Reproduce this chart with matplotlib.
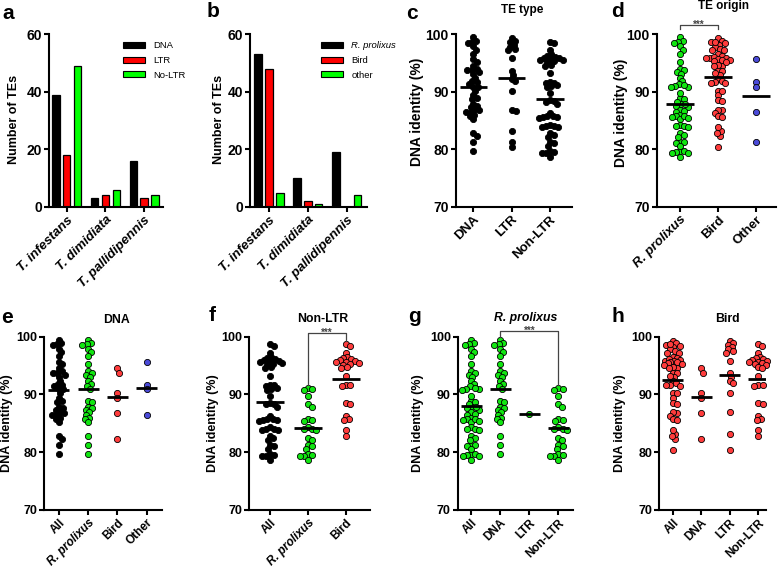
import numpy as np
import matplotlib
matplotlib.use('Agg')
import matplotlib.pyplot as plt
from matplotlib.patches import Patch

plt.rcParams['font.family'] = ['Liberation Sans', 'DejaVu Sans']
plt.rcParams['font.weight'] = 'bold'

# ---------------- data ----------------
species = ['T. infestans', 'T. dimidiata', 'T. pallidipennis']
type_names = ['DNA', 'LTR', 'No-LTR']
count_dna = [39, 3, 16]
count_ltr = [18, 4, 3]
count_nonltr = [49, 6, 4]
origin_names = ['R. prolixus', 'Bird', 'other']
count_rp = [53, 10, 19]
count_bird = [48, 2, 0]
count_other = [5, 1, 4]

# DNA identity (%) of T. infestans TEs, by type x origin
dna_rp = [99.5, 98.9, 98.7, 98.5, 97.9, 97.3, 96.6, 95.2, 94.0, 93.8, 93.4, 93.1, 92.4, 91.8, 91.4,
          90.9, 88.9, 88.7, 87.9, 87.6, 87.3, 86.9, 86.5, 86.0, 85.7, 85.2, 82.8, 81.3, 79.7]
dna_bird = [94.5, 93.8, 90.2, 89.4, 86.8, 82.3]
dna_other = [95.7, 91.7, 90.9, 86.4]
ltr_rp = [86.6]
ltr_bird = [99.3, 98.9, 98.6, 98.2, 97.8, 97.5, 97.2, 95.8, 93.7, 93.0, 92.3, 91.9, 90.2, 86.9, 83.2, 80.4]
ltr_other = [81.3]
nonltr_rp = [91.1, 91.0, 90.8, 89.8, 88.3, 87.9, 85.8, 85.6, 85.4, 84.3, 84.1, 84.0, 83.8, 82.4, 82.1,
             81.2, 81.0, 80.5, 79.7, 79.5, 79.4, 79.3, 78.6]
nonltr_bird = [98.7, 98.4, 97.2, 96.5, 96.3, 96.1, 95.9, 95.8, 95.7, 95.6, 95.5, 95.3, 95.1, 94.7, 94.5,
               93.2, 91.7, 91.6, 91.5, 88.5, 88.4, 86.3, 85.7, 85.6, 83.8, 82.8]

all_dna = dna_rp + dna_bird + dna_other
all_ltr = ltr_rp + ltr_bird + ltr_other
all_nonltr = nonltr_rp + nonltr_bird
all_rp = dna_rp + ltr_rp + nonltr_rp
all_bird = dna_bird + ltr_bird + nonltr_bird
all_other = dna_other + ltr_other

# ---------------- style ----------------
BAR_GREEN = '#00ff00'
BAR_RED = '#ff0000'
DOT_BLACK = '#000000'
DOT_GREEN = '#11e611'
DOT_RED = '#ff3c3c'
DOT_BLUE = '#4a4ad8'

W, H = 778, 568
fig = plt.figure(figsize=(W / 100, H / 100), dpi=100)


def make_ax(x0, x1, y0, y1, xlim, ylim):
    ax = fig.add_axes([x0 / W, 1 - y1 / H, (x1 - x0) / W, (y1 - y0) / H])
    ax.set_xlim(*xlim)
    ax.set_ylim(*ylim)
    for s in ('top', 'right'):
        ax.spines[s].set_visible(False)
    for s in ('left', 'bottom'):
        ax.spines[s].set_linewidth(1.5)
    ax.tick_params(axis='both', direction='out', length=3.5, width=1.5, pad=1.5)
    return ax


def ftext(x, y, s, **kw):
    fig.text(x / W, 1 - y / H, s, **kw)


def swarm(ax, xc, vals, d=4.3, max_frac=0.33):
    tr = ax.transData
    pts = tr.transform(np.column_stack([np.full(len(vals), float(xc)), vals]))
    ys = pts[:, 1]
    ppu = (tr.transform((1, 0)) - tr.transform((0, 0)))[0]
    maxw = max_frac * ppu
    order = np.argsort(-ys, kind='stable')
    placed = []
    xs = np.zeros(len(vals))
    for idx in order:
        y = ys[idx]
        near = [(px, py) for px, py in placed if abs(py - y) < d]
        cands = [0.0]
        for px, py in near:
            dx = np.sqrt(d * d - (py - y) ** 2)
            cands += [px + dx, px - dx]
        cands = [c for c in cands if abs(c) <= maxw]
        cands.sort(key=lambda c: (round(abs(c), 6), -c))
        chosen = None
        for c in cands:
            if all((c - px) ** 2 + (y - py) ** 2 >= d * d - 1e-6 for px, py in near):
                chosen = c
                break
        if chosen is None:
            grid = np.linspace(-maxw, maxw, 41)
            score = [min(np.hypot(g - px, y - py) for px, py in near) for g in grid]
            chosen = float(grid[int(np.argmax(score))])
        xs[idx] = chosen
        placed.append((chosen, y))
    return xs / ppu


def bar_panel(ax, series, colors, labels, italic_first=False, leg_x=0.65):
    n = len(series)
    x = np.arange(len(species))
    width = 0.19
    step = 0.28
    for k, (vals, col) in enumerate(zip(series, colors)):
        ax.bar(x + (k - (n - 1) / 2) * step, vals, width=width, color=col,
               edgecolor='black', linewidth=0.9, zorder=2)
    ax.set_yticks([0, 20, 40, 60])
    ax.set_yticklabels(['0', '20', '40', '60'], fontsize=10, fontweight='bold')
    ax.set_xticks(x)
    ax.set_xticklabels(species, rotation=45, ha='right', va='top', rotation_mode='anchor',
                       fontsize=9.5, fontweight='bold', fontstyle='italic')
    handles = [Patch(facecolor=c, edgecolor='black', linewidth=0.8) for c in colors]
    leg = ax.legend(handles, labels, loc='upper left', bbox_to_anchor=(leg_x, 0.96),
                    frameon=False, prop={'weight': 'normal', 'size': 6.8},
                    handlelength=2.3, handleheight=0.6, labelspacing=0.6,
                    handletextpad=0.9, borderaxespad=0, borderpad=0)
    if italic_first:
        leg.get_texts()[0].set_style('italic')


def dot_panel(ax, groups, colors, labels, fs_tick, fs_x, italic_labels=()):
    for i, (vals, col) in enumerate(zip(groups, colors)):
        offs = swarm(ax, i, vals)
        ax.scatter(i + offs, vals, s=20, c=col, edgecolors='black', linewidths=0.6,
                   zorder=2, clip_on=False)
        ax.hlines(np.mean(vals), i - 0.36, i + 0.36, colors='black', lw=2.0, zorder=3)
    ax.set_yticks([70, 80, 90, 100])
    ax.set_yticklabels(['70', '80', '90', '100'], fontsize=fs_tick, fontweight='bold')
    ax.set_xticks(range(len(labels)))
    ax.set_xticklabels(labels, rotation=45, ha='right', va='top', rotation_mode='anchor',
                       fontsize=fs_x, fontweight='bold')
    for t in ax.get_xticklabels():
        if t.get_text() in italic_labels:
            t.set_fontstyle('italic')


def bracket(ax, x0, x1, ytop, yl, yr, fs=7):
    ax.plot([x0, x0, x1, x1], [yl, ytop, ytop, yr], color='#444444', lw=0.9,
            clip_on=False, zorder=4)
    ax.text((x0 + x1) / 2, ytop - 0.55, '***', ha='center', va='baseline', fontsize=fs,
            color='#444444', fontweight='bold', clip_on=False)


# ---------------- panel a ----------------
ax_a = make_ax(49, 163, 34.3, 207, (-0.46, 2.49), (0, 60))
bar_panel(ax_a, [count_dna, count_ltr, count_nonltr], ['black', BAR_RED, BAR_GREEN],
          type_names, leg_x=0.65)

# ---------------- panel b ----------------
ax_b = make_ax(250, 367, 34.3, 207, (-0.49, 2.52), (0, 60))
bar_panel(ax_b, [count_rp, count_bird, count_other], ['black', BAR_RED, BAR_GREEN],
          origin_names, italic_first=True, leg_x=0.607)

# ---------------- panel c ----------------
ax_c = make_ax(455.7, 571.7, 34.3, 206.7, (-0.46, 2.57), (70, 100))
dot_panel(ax_c, [all_dna, all_ltr, all_nonltr], [DOT_BLACK] * 3,
          ['DNA', 'LTR', 'Non-LTR'], 10, 9.5)

# ---------------- panel d ----------------
ax_d = make_ax(656.7, 776, 34.3, 206.7, (-0.61, 2.52), (70, 100))
dot_panel(ax_d, [all_rp, all_bird, all_other], [DOT_GREEN, DOT_RED, DOT_BLUE],
          ['R. prolixus', 'Bird', 'Other'], 10, 9.5, italic_labels=('R. prolixus',))
bracket(ax_d, 0, 1, 101.6, 100.9, 100.9)

# ---------------- panel e ----------------
ax_e = make_ax(44.3, 161.7, 336.7, 510, (-0.5, 3.51), (70, 100))
dot_panel(ax_e, [all_dna, dna_rp, dna_bird, dna_other],
          [DOT_BLACK, DOT_GREEN, DOT_RED, DOT_BLUE],
          ['All', 'R. prolixus', 'Bird', 'Other'], 9, 8.5, italic_labels=('R. prolixus',))

# ---------------- panel f ----------------
ax_f = make_ax(249.3, 370, 336.7, 510, (-0.54, 2.63), (70, 100))
dot_panel(ax_f, [all_nonltr, nonltr_rp, nonltr_bird], [DOT_BLACK, DOT_GREEN, DOT_RED],
          ['All', 'R. prolixus', 'Bird'], 9, 8.5, italic_labels=('R. prolixus',))
bracket(ax_f, 1, 2, 100.7, 91.7, 99.3)

# ---------------- panel g ----------------
ax_g = make_ax(457.7, 572.7, 336.7, 510, (-0.46, 3.49), (70, 100))
dot_panel(ax_g, [all_rp, dna_rp, ltr_rp, nonltr_rp], [DOT_GREEN] * 4,
          ['All', 'DNA', 'LTR', 'Non-LTR'], 9, 8.5)
bracket(ax_g, 1, 3, 101.0, 100.0, 91.7)

# ---------------- panel h ----------------
ax_h = make_ax(659, 766, 336.7, 510, (-0.48, 3.27), (70, 100))
dot_panel(ax_h, [all_bird, dna_bird, ltr_bird, nonltr_bird], [DOT_RED] * 4,
          ['All', 'DNA', 'LTR', 'Non-LTR'], 9, 8.5)

# ---------------- texts ----------------
letters = [('a', 8.5, 13.5), ('b', 213.3, 11.7), ('c', 411.7, 13.3), ('d', 617.5, 11.7),
           ('e', 6.7, 317.5), ('f', 212.5, 315.5), ('g', 414, 317), ('h', 617.5, 316.7)]
for s, x, y in letters:
    ftext(x, y, s, fontsize=15, fontweight='bold', ha='center', va='center')

titles = [('TE type', 521.7, 9.5, 'normal'), ('TE origin', 723.3, 6.5, 'normal'),
          ('DNA', 116.7, 320, 'normal'), ('Non-LTR', 322.5, 319.5, 'normal'),
          ('R. prolixus', 525.8, 318.0, 'italic'), ('Bird', 727.5, 319.3, 'normal')]
for s, x, y, st in titles:
    ftext(x, y, s, fontsize=8.5 if y < 100 else 8.8, fontweight='bold', fontstyle=st,
          ha='center', va='center')

ylabels = [('Number of TEs', 13.8, 119, 9), ('Number of TEs', 219, 119, 9),
           ('DNA identity (%)', 417.5, 111.7, 10), ('DNA identity (%)', 621.3, 112.5, 10),
           ('DNA identity (%)', 6.7, 423.3, 9), ('DNA identity (%)', 213.3, 423.3, 9),
           ('DNA identity (%)', 418.3, 423.3, 9), ('DNA identity (%)', 620, 423.3, 9)]
for s, x, y, fs in ylabels:
    ftext(x, y, s, fontsize=fs, fontweight='bold', rotation=90, ha='center', va='center')

fig.savefig('out.png', dpi=100)
